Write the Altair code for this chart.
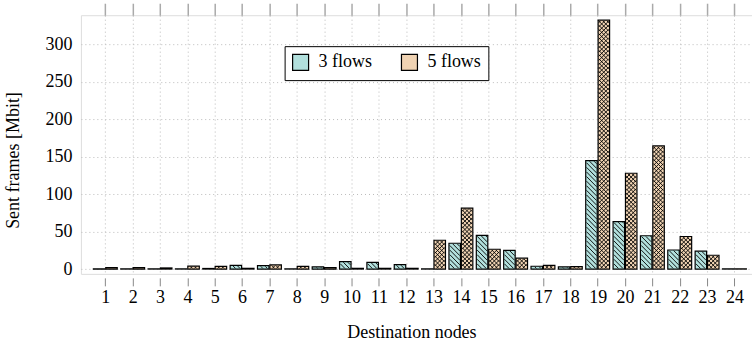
import altair as alt
import pandas as pd

# ---- data ----
nodes = list(range(1, 25))
flows3 = [0.3, 0.3, 0.3, 0.3, 0.8, 5, 4.5, 0.3, 3, 10, 9, 6,
          0.3, 34.5, 45, 25, 3.8, 3, 145, 63.5, 44.5, 25.5, 24, 0.3]
flows5 = [2, 2, 1.5, 4, 3.5, 1, 5.5, 3.5, 2, 1, 1, 1,
          38.5, 81.5, 26.5, 14.5, 5, 3.3, 332.5, 128, 164.5, 43.5, 18.5, 0.3]
series_names = ["3 flows", "5 flows"]
y_ticks = [0, 50, 100, 150, 200, 250, 300]

colors = ["#b2e0dd", "#f0d3b3"]
FONT = "'Liberation Serif', 'DejaVu Serif', serif"
FS = 18

df = pd.DataFrame({
    "node": nodes + nodes,
    "value": flows3 + flows5,
    "series": [series_names[0]] * len(nodes) + [series_names[1]] * len(nodes),
})

W, H = 672, 259
XMIN, XMAX = 0.29, 24.46
YMIN, YMAX = -6.4, 339.2
PX_X = W / (XMAX - XMIN)
PX_Y = H / (YMAX - YMIN)
xscale = alt.Scale(domain=[XMIN, XMAX], nice=False, zero=False)
yscale = alt.Scale(domain=[YMIN, YMAX], nice=False, zero=False)

BAR_W = 11.5
BAR_OFF = 6.2

fill = alt.Fill(
    "series:N",
    scale=alt.Scale(domain=series_names, range=colors),
    legend=alt.Legend(
        title=None, orient="none", legendX=204, legendY=31,
        direction="horizontal", fillColor="white", strokeColor="black",
        padding=7, symbolType="square", symbolSize=256,
        symbolStrokeColor="black", symbolStrokeWidth=1.2,
        labelFont=FONT, labelFontSize=FS, labelColor="black",
        columnPadding=26, labelOffset=9, cornerRadius=0,
    ),
)

x_bottom = alt.X(
    "node:Q", scale=xscale,
    axis=alt.Axis(
        values=nodes, title="Destination nodes", offset=4, domain=False,
        ticks=True, tickSize=8, tickColor="#888888", tickWidth=1,
        labelPadding=3, grid=True, gridColor="#bbbbbb", gridDash=[1, 3],
        labelFont=FONT, labelFontSize=FS, labelColor="black",
        titleFont=FONT, titleFontSize=FS, titleFontWeight="normal",
        titleColor="black", titleX=331, titleY=55, titleBaseline="middle",
        labelFlush=False,
    ),
)
x_top = alt.X(
    "node:Q", scale=xscale,
    axis=alt.Axis(
        orient="top", values=nodes, title=None, labels=False, domain=False,
        ticks=True, tickSize=12, tickColor="#aaaaaa", tickWidth=1.5, grid=False,
    ),
)
y_enc = alt.Y(
    "value:Q", scale=yscale,
    axis=alt.Axis(
        values=y_ticks, title="Sent frames [Mbit]", domain=False, ticks=False,
        labelPadding=9, grid=True, gridColor="#bbbbbb", gridDash=[1, 3],
        labelFont=FONT, labelFontSize=FS, labelColor="black",
        titleFont=FONT, titleFontSize=FS, titleFontWeight="normal",
        titleColor="black", titleAngle=270, titleX=-67, titleY=145,
        titleAlign="center", titleBaseline="middle",
    ),
)

base = alt.Chart(df)


def hatch(series, left_px, direction, step_px):
    """Pattern lines clipped to each bar, derived from the bar's value."""
    w = BAR_W - 1.3
    lo = 0.65 / PX_Y
    d = w / PX_Y
    st = step_px / PX_Y
    hi = f"(datum.value-{lo})"
    if direction == "nw":
        seq = f"sequence({lo}+{st}, {hi}+{d}, {st})"
        xs = f"{left_px}+max(0,(datum.a-{hi})*{PX_Y})"
        ys = f"min(datum.a,{hi})"
        xe = f"{left_px}+min({w},(datum.a-{lo})*{PX_Y})"
        ye = f"max(datum.a-{d},{lo})"
    else:
        seq = f"sequence({lo}-{d}+{st}, {hi}, {st})"
        xs = f"{left_px}+max(0,({lo}-datum.a)*{PX_Y})"
        ys = f"max(datum.a,{lo})"
        xe = f"{left_px}+min({w},({hi}-datum.a)*{PX_Y})"
        ye = f"min(datum.a+{d},{hi})"
    return (
        base.transform_filter(alt.datum.series == series)
        .transform_filter(f"datum.value > {3 * lo}")
        .transform_calculate(a=seq)
        .transform_flatten(["a"])
        .transform_calculate(xs=xs, xe=xe)
        .transform_filter("datum.xe - datum.xs > 0.4")
        .transform_calculate(
            xa=f"datum.node + datum.xs/{PX_X}",
            xb=f"datum.node + datum.xe/{PX_X}",
            ya=ys, yb=ye,
        )
        .mark_rule(color="black", strokeWidth=0.9)
        .encode(
            x=alt.X("xa:Q", scale=xscale, axis=None),
            x2="xb:Q",
            y=alt.Y("ya:Q", scale=yscale, axis=None),
            y2="yb:Q",
        )
    )


bars3 = base.transform_filter(alt.datum.series == series_names[0]).mark_bar(
    width=BAR_W, xOffset=-BAR_OFF, stroke="black", strokeWidth=1.2
).encode(x=x_bottom, y=y_enc, y2=alt.datum(0), fill=fill)

bars5 = base.transform_filter(alt.datum.series == series_names[1]).mark_bar(
    width=BAR_W, xOffset=BAR_OFF, stroke="black", strokeWidth=1.2
).encode(x=x_top, y=alt.Y("value:Q", scale=yscale, axis=None), y2=alt.datum(0), fill=fill)

left3 = -BAR_OFF - (BAR_W - 1.3) / 2
left5 = BAR_OFF - (BAR_W - 1.3) / 2
h3 = hatch(series_names[0], left3, "nw", 4.6)
h5a = hatch(series_names[1], left5, "nw", 4.2)
h5b = hatch(series_names[1], left5, "ne", 4.2)

chart = alt.layer(bars3, bars5, h3, h5a, h5b).resolve_axis(
    x="independent", y="independent"
).properties(
    width=W, height=H,
    autosize=alt.AutoSizeParams(type="none"),
    padding={"left": 81, "top": 15, "right": 0, "bottom": 69},
).configure_view(stroke="black", strokeWidth=1.2).configure(
    background="white", font=FONT
)

chart.save("out.html", embed_options={"renderer": "svg", "actions": False})
